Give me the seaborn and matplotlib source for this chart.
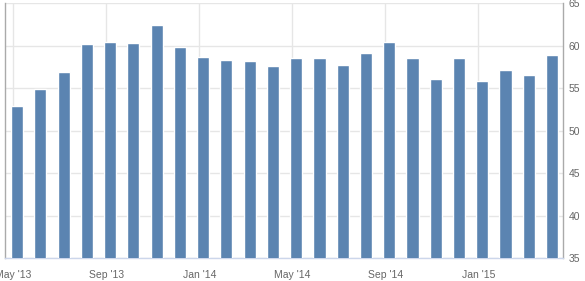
import matplotlib
matplotlib.use("Agg")
import matplotlib.pyplot as plt
import seaborn as sns
import pandas as pd

months = ["May '13", "Jun '13", "Jul '13", "Aug '13", "Sep '13", "Oct '13", "Nov '13", "Dec '13",
          "Jan '14", "Feb '14", "Mar '14", "Apr '14", "May '14", "Jun '14", "Jul '14", "Aug '14",
          "Sep '14", "Oct '14", "Nov '14", "Dec '14", "Jan '15", "Feb '15", "Mar '15", "Apr '15"]
values = [52.9, 54.9, 56.9, 60.2, 60.5, 60.3, 62.5, 59.9,
          58.7, 58.3, 58.2, 57.6, 58.6, 58.6, 57.7, 59.1,
          60.5, 58.6, 56.1, 58.6, 55.8, 57.2, 56.6, 58.9]
y_ticks = [35, 40, 45, 50, 55, 60, 65]
x_label_idx = [0, 4, 8, 12, 16, 20]

df = pd.DataFrame({"month": months, "value": values})

sns.set_theme(style="white")
plt.rcParams['font.family'] = ['Liberation Sans', 'DejaVu Sans']

fig = plt.figure(figsize=(5.85, 2.81), dpi=100)
ax = fig.add_axes([4.5/585, 1-258/281, (563-4.5)/585, (258-3.3)/281])

sns.barplot(data=df, x="month", y="value", color="#5B84B1", width=0.52,
            saturation=1, ax=ax, zorder=3)

ax.set_ylim(35, 65)
ax.set_xlim(-0.54, 23.47)
ax.set_yticks(y_ticks)
ax.set_xticks([i - 0.17 for i in x_label_idx])
ax.set_xticklabels([months[i] for i in x_label_idx])
ax.set_xlabel("")
ax.set_ylabel("")

ax.yaxis.tick_right()
ax.tick_params(axis='both', length=0, labelsize=7.5, colors="#666666")
ax.tick_params(axis='x', pad=9)
ax.tick_params(axis='y', pad=4)

ax.grid(True, color="#e6e6e6", linewidth=1, zorder=0)
ax.set_axisbelow(True)

for s in ["top"]:
    ax.spines[s].set_visible(False)
ax.spines["left"].set_color("#aaaaaa")
ax.spines["right"].set_color("#aaaaaa")
ax.spines["bottom"].set_color("#ccd6eb")
for s in ["left", "right", "bottom"]:
    ax.spines[s].set_linewidth(1)

fig.savefig("out.png", dpi=100)
